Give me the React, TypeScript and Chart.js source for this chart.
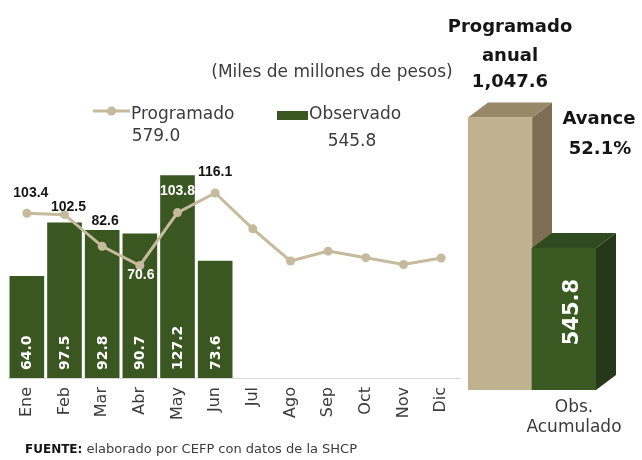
import React, { useEffect, useRef } from 'react';
import { Chart, registerables } from 'chart.js';

Chart.register(...registerables);

// ---- Data ----
const months = ['Ene', 'Feb', 'Mar', 'Abr', 'May', 'Jun', 'Jul', 'Ago', 'Sep', 'Oct', 'Nov', 'Dic'];
const programado = [103.4, 102.5, 82.6, 70.6, 103.8, 116.1, 93.6, 73.4, 79.6, 75.5, 71.2, 75.3];
const observado = [64.0, 97.5, 92.8, 90.7, 127.2, 73.6];
const programadoAcum = 579.0;
const observadoAcum = 545.8;
const annualCategories = ['Programado anual', 'Obs. Acumulado'];
const annualValues = [1047.6, 545.8];
const unitsText = '(Miles de millones de pesos)';
const sourceBold = 'FUENTE:';
const sourceText = ' elaborado por CEFP con datos de la SHCP';

// ---- Styles ----
const FONT = 'DejaVu Sans';
const TAN = '#C6BA9C';
const GREEN = '#3A5722';
const TEXT = '#3c3c3c';
const DARK = '#151515';
const frontColors = ['#C0B18F', '#3B5A23'];
const sideColors = ['#7D6F55', '#25381A'];
const topColors = ['#978868', '#2F4A1F'];
const DX = 20;
const DY = -15;
// label placement for line values (Ene..Jun): offsets from point, colour
const lineLabelStyle = [
  { dx: 4, dy: -20, color: DARK },
  { dx: 4, dy: -8, color: DARK },
  { dx: 3, dy: -25, color: DARK },
  { dx: 1, dy: 10, color: '#ffffff' },
  { dx: 0, dy: -21, color: '#ffffff' },
  { dx: 0, dy: -21, color: DARK },
];

const leftPlugin = {
  id: 'leftDecor',
  afterDatasetsDraw(chart: any) {
    const ctx = chart.ctx;
    // bar value labels
    const barMeta = chart.getDatasetMeta(1);
    ctx.save();
    ctx.font = `bold 14px "${FONT}"`;
    ctx.fillStyle = '#ffffff';
    ctx.textAlign = 'left';
    ctx.textBaseline = 'middle';
    barMeta.data.forEach((el: any, i: number) => {
      ctx.save();
      ctx.translate(el.x + 1, el.base - 8);
      ctx.rotate(-Math.PI / 2);
      ctx.fillText(observado[i].toFixed(1), 0, 0);
      ctx.restore();
    });
    ctx.restore();
    // line value labels
    const lineMeta = chart.getDatasetMeta(0);
    ctx.save();
    ctx.font = `bold 14px "Liberation Sans"`;
    ctx.textAlign = 'center';
    ctx.textBaseline = 'middle';
    lineLabelStyle.forEach((st, i) => {
      const pt = lineMeta.data[i];
      ctx.fillStyle = st.color;
      ctx.fillText(programado[i].toFixed(1), pt.x + st.dx, pt.y + st.dy);
    });
    ctx.restore();
  },
  afterDraw(chart: any) {
    const ctx = chart.ctx;
    ctx.save();
    ctx.textBaseline = 'middle';
    // units
    ctx.fillStyle = TEXT;
    ctx.font = `17px "${FONT}"`;
    ctx.textAlign = 'center';
    ctx.fillText(unitsText, 332, 73);
    // legend: line
    ctx.strokeStyle = TAN;
    ctx.lineWidth = 3;
    ctx.beginPath();
    ctx.moveTo(93, 111);
    ctx.lineTo(130, 111);
    ctx.stroke();
    ctx.fillStyle = TAN;
    ctx.beginPath();
    ctx.arc(111.5, 111, 4.5, 0, Math.PI * 2);
    ctx.fill();
    ctx.fillStyle = TEXT;
    ctx.textAlign = 'left';
    ctx.fillText(chart.data.datasets[0].label, 131, 115);
    ctx.textAlign = 'center';
    ctx.fillText(programadoAcum.toFixed(1), 156, 137);
    // legend: bar
    ctx.fillStyle = GREEN;
    ctx.fillRect(277, 111, 31, 9);
    ctx.fillStyle = TEXT;
    ctx.textAlign = 'left';
    ctx.fillText(chart.data.datasets[1].label, 309, 115);
    ctx.textAlign = 'center';
    ctx.fillText(observadoAcum.toFixed(1), 352, 142);
    // source
    ctx.textAlign = 'left';
    ctx.fillStyle = DARK;
    ctx.font = `bold 12px "${FONT}"`;
    ctx.fillText(sourceBold, 25, 450);
    const w = ctx.measureText(sourceBold).width;
    ctx.fillStyle = TEXT;
    ctx.font = `13px "${FONT}"`;
    ctx.fillText(sourceText, 25 + w, 450);
    ctx.restore();
  },
};

const rightPlugin = {
  id: 'right3d',
  beforeDatasetsDraw(chart: any) {
    const ctx = chart.ctx;
    const meta = chart.getDatasetMeta(0);
    ctx.save();
    meta.data.forEach((el: any, i: number) => {
      const l = el.x - el.width / 2;
      const r = el.x + el.width / 2;
      const y = el.y;
      const b = el.base;
      ctx.fillStyle = sideColors[i];
      ctx.beginPath();
      ctx.moveTo(r, y);
      ctx.lineTo(r + DX, y + DY);
      ctx.lineTo(r + DX, b + DY);
      ctx.lineTo(r, b);
      ctx.closePath();
      ctx.fill();
      ctx.fillStyle = topColors[i];
      ctx.beginPath();
      ctx.moveTo(l, y);
      ctx.lineTo(l + DX, y + DY);
      ctx.lineTo(r + DX, y + DY);
      ctx.lineTo(r, y);
      ctx.closePath();
      ctx.fill();
    });
    ctx.restore();
  },
  afterDraw(chart: any) {
    const ctx = chart.ctx;
    const meta = chart.getDatasetMeta(0);
    const p = meta.data[0];
    const o = meta.data[1];
    ctx.save();
    ctx.textAlign = 'center';
    ctx.textBaseline = 'middle';
    ctx.fillStyle = DARK;
    ctx.font = `bold 18px "${FONT}"`;
    const [w1, w2] = annualCategories[0].split(' ');
    const cx = p.x + DX / 2;
    ctx.fillText(w1, cx, p.y - 90);
    ctx.fillText(w2, cx, p.y - 61);
    ctx.fillText(annualValues[0].toLocaleString('en-US', { minimumFractionDigits: 1, maximumFractionDigits: 1 }), cx, p.y - 35);
    const pct = (annualValues[1] / annualValues[0]) * 100;
    ctx.fillText('Avance', o.x + 35, o.y - 129);
    ctx.fillText(pct.toFixed(1) + '%', o.x + 36, o.y - 99);
    // value in obs bar
    ctx.fillStyle = '#ffffff';
    ctx.font = `bold 21px "${FONT}"`;
    ctx.translate(o.x + 9, (o.y + o.base) / 2 - 7);
    ctx.rotate(-Math.PI / 2);
    ctx.fillText(annualValues[1].toFixed(1), 0, 0);
    ctx.restore();
  },
};

export default function App() {
  const leftRef = useRef<HTMLCanvasElement>(null);
  const rightRef = useRef<HTMLCanvasElement>(null);

  useEffect(() => {
    const left = new Chart(leftRef.current!, {
      type: 'bar',
      data: {
        labels: months,
        datasets: [
          {
            type: 'line',
            label: 'Programado',
            data: programado,
            borderColor: TAN,
            backgroundColor: TAN,
            borderWidth: 3,
            pointRadius: 4.5,
            pointBackgroundColor: TAN,
            pointBorderWidth: 0,
            tension: 0,
            order: 0,
          } as any,
          {
            type: 'bar',
            label: 'Observado',
            data: observado,
            backgroundColor: GREEN,
            barPercentage: 0.92,
            categoryPercentage: 1,
            order: 1,
          },
        ],
      },
      options: {
        responsive: false,
        animation: false,
        layout: { padding: { left: 8, right: 182, top: 123, bottom: 0 } },
        plugins: { legend: { display: false }, tooltip: { enabled: false } },
        scales: {
          x: {
            grid: { display: false, drawTicks: false },
            border: { display: true, color: '#d9d9d9', width: 1 },
            ticks: {
              minRotation: 90,
              maxRotation: 90,
              autoSkip: false,
              padding: 9,
              color: TEXT,
              font: { family: FONT, size: 16 },
            },
            afterFit: (s: any) => {
              s.height = 82;
            },
          },
          y: { display: false, min: 0, max: 160 },
        },
      },
      plugins: [leftPlugin],
    });

    const right = new Chart(rightRef.current!, {
      type: 'bar',
      data: {
        labels: annualCategories,
        datasets: [
          {
            data: annualValues,
            backgroundColor: frontColors,
            barPercentage: 1,
            categoryPercentage: 1,
          },
        ],
      },
      options: {
        responsive: false,
        animation: false,
        layout: { padding: { left: 468, right: 46, top: 78, bottom: 0 } },
        plugins: { legend: { display: false }, tooltip: { enabled: false } },
        scales: {
          x: {
            grid: { display: false, drawTicks: false },
            border: { display: false },
            ticks: {
              padding: 7,
              labelOffset: 10,
              minRotation: 0,
              maxRotation: 0,
              autoSkip: false,
              color: TEXT,
              font: { family: FONT, size: 17 },
              callback: (_v: any, i: number) => (i === 0 ? '' : annualCategories[i].split(' ')),
            },
            afterFit: (s: any) => {
              s.height = 70;
            },
          },
          y: { display: false, min: 0, max: 1200 },
        },
      },
      plugins: [rightPlugin],
    });

    return () => {
      left.destroy();
      right.destroy();
    };
  }, []);

  return (
    <div style={{ position: 'fixed', left: 0, top: 0, width: 642, height: 460, background: '#fff' }}>
      <canvas ref={leftRef} width={642} height={460} style={{ position: 'absolute', left: 0, top: 0 }} />
      <canvas ref={rightRef} width={642} height={460} style={{ position: 'absolute', left: 0, top: 0 }} />
    </div>
  );
}
